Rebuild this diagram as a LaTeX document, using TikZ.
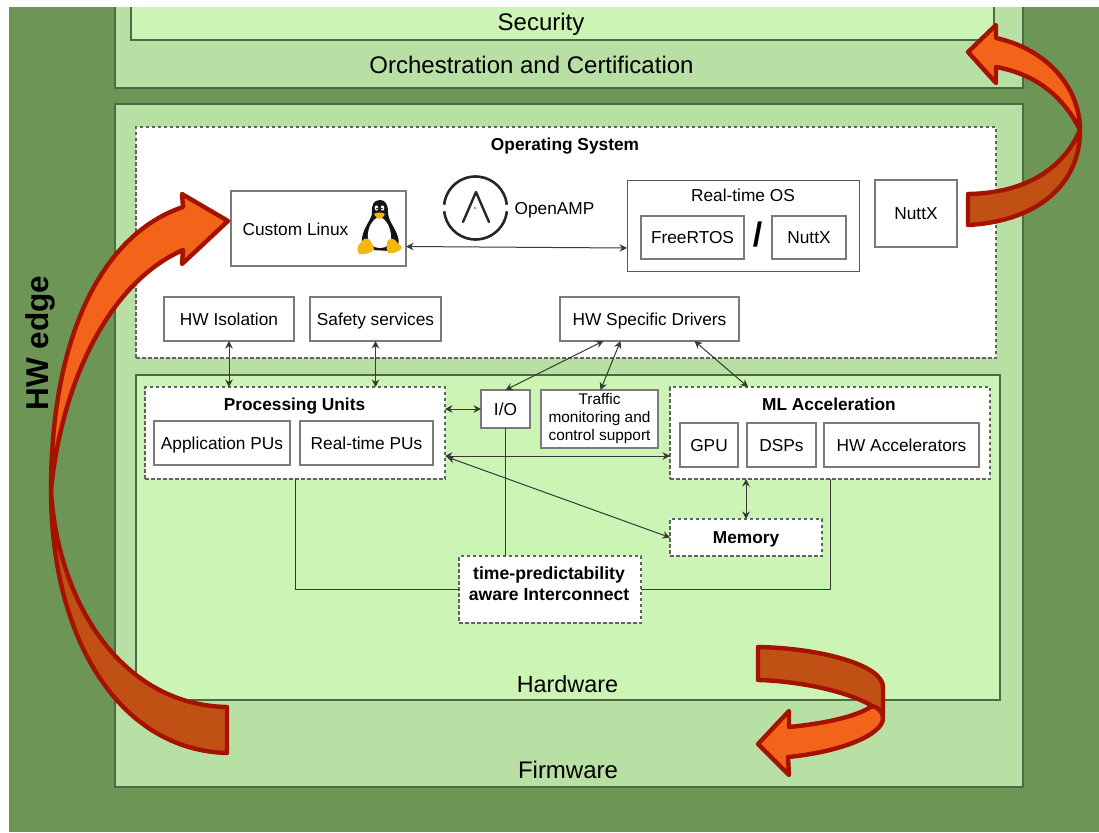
\documentclass[tikz,border=0pt]{standalone}
\usepackage{fontspec}
\setmainfont{Liberation Sans}
\usetikzlibrary{arrows.meta,calc}
\definecolor{edgegreen}{HTML}{6C9556}
\definecolor{midgreen}{HTML}{B8E0A5}
\definecolor{lightgreen}{HTML}{CCF5B5}
\definecolor{greenline}{HTML}{4D6A45}
\definecolor{ribbonline}{HTML}{A51300}
\definecolor{ribbonfront}{HTML}{F36319}
\definecolor{ribbonback}{HTML}{C15014}
\definecolor{tuxyellow}{HTML}{F3B70F}
\tikzset{
  layer/.style={draw=greenline,line width=1.4pt,fill=#1},
  plainbox/.style={draw=black!52,line width=1.4pt,fill=white,align=center},
  thinbox/.style={draw=black!65,line width=1pt,fill=white,align=center},
  dashbox/.style={draw=black!62,line width=1.2pt,dash pattern=on 3.5pt off 2.5pt,fill=white,align=center},
  big/.style={font=\fontsize{24}{28}\selectfont,text height=17pt,text depth=0pt},
  txt/.style={font=\fontsize{17.3}{20}\selectfont,text height=12.4pt,text depth=0pt},
  txtb/.style={font=\bfseries\fontsize{17.3}{20}\selectfont,text height=12.4pt,text depth=0pt},
  wire/.style={draw=black!78,line width=1pt},
  link/.style={wire,{Stealth[length=7.5pt,width=7.5pt]}-{Stealth[length=7.5pt,width=7.5pt]}},
  ribbon/.style={draw=ribbonline,line width=4.4pt,line join=round,fill=#1},
}
\newcommand{\rbox}[7]{%
  \pgfmathsetmacro{\bw}{#5-#3}\pgfmathsetmacro{\bh}{#6-#4}%
  \pgfmathsetmacro{\bx}{(#3+#5)/2}\pgfmathsetmacro{\by}{(#4+#6)/2}%
  \node[#1,minimum width=\bw pt,minimum height=\bh pt,inner sep=0pt,outer sep=0pt] (#2) at (\bx,\by) {#7};}
\begin{document}
\begin{tikzpicture}[x=1pt,y=-1pt]
\useasboundingbox (0,0) rectangle (1099,832);
\fill[edgegreen] (9,0) rectangle (1099,832);
% layers
\rbox{layer=midgreen}{orch}{115}{-10}{1023}{88}{}
\rbox{layer=lightgreen}{sec}{131}{-10}{994}{40}{}
\rbox{layer=midgreen}{main}{115}{104}{1023}{787}{}
\rbox{layer=lightgreen}{hw}{136}{375}{1000}{700}{}
\fill[white] (0,0) rectangle (1099,7);
\node[big] (lsec) at (541,22) {Security};
\node[big] (lorch) at (531.5,65.5) {Orchestration and Certification};
\node[big,font=\fontsize{23.4}{27}\selectfont] (lhw) at (567.5,684) {Hardware};
\node[big] (lfw) at (568,770) {Firmware};
\node[rotate=90,font=\bfseries\fontsize{31.5}{36}\selectfont] (ledge) at (40,343) {HW edge};
% OS
\rbox{dashbox}{os}{136}{127}{996}{358}{}
\node[txtb] (los) at (565,144) {Operating System};
\rbox{plainbox,txt}{linux}{231}{191}{406}{266}{}
\node[txt] (llinux) at (295.5,229) {Custom Linux};
\rbox{thinbox}{rtos}{627}{180}{859}{271}{}
\node[txt] (lrtos) at (743,195) {Real-time OS};
\rbox{plainbox,txt}{free}{641}{216}{744}{259}{FreeRTOS}
\rbox{plainbox,txt}{nuttxa}{772}{216}{846}{259}{NuttX}
\node[font=\bfseries\fontsize{34}{38}\selectfont] (slash) at (757.5,235) {/};
\rbox{plainbox,txt}{nuttxb}{875}{180}{957}{247}{NuttX}
\rbox{plainbox,txt}{iso}{164}{297}{294}{341}{HW Isolation}
\rbox{plainbox,txt}{safe}{310}{297}{441}{341}{Safety services}
\rbox{plainbox,txt}{drv}{560}{297}{739}{341}{HW Specific Drivers}
\node[txt] (lamp) at (554.5,208) {OpenAMP};
% OpenAMP logo
\draw[black!85,line width=2.6pt] (475.5,208) ++(6:31.5) arc[start angle=6,end angle=174,radius=31.5];
\draw[black!85,line width=2.6pt] (475.5,208) ++(186:31.5) arc[start angle=186,end angle=354,radius=31.5];
\draw[black!85,line width=2.4pt,line cap=round,line join=round] (463,222) -- (476,192) -- (489,222);
\fill[red!75!black] (475,208) circle (0.9);
% Tux
\fill[black!92] (380,200) .. controls (374,200) and (371,205) .. (372,213)
  .. controls (372,219) and (364,226) .. (362,238) .. controls (361,246) and (366,250) .. (372,250)
  -- (390,251) .. controls (398,250) and (400,245) .. (398,237)
  .. controls (395,227) and (388,221) .. (388,212) .. controls (388,204) and (385,200) .. (380,200) -- cycle;
\fill[white] (379,217) .. controls (372,219) and (367,229) .. (368,238) .. controls (369,245) and (374,248) .. (380,248)
  .. controls (386,248) and (391,245) .. (391,237) .. controls (391,228) and (386,218) .. (379,217) -- cycle;
\fill[white] (376.5,208) ellipse (1.8 and 2.6);
\fill[white] (382.5,208) ellipse (1.8 and 2.6);
\fill[black] (377,208.5) circle (0.9);
\fill[black] (382,208.5) circle (0.9);
\fill[tuxyellow] (374,214) .. controls (377,212) and (382,212) .. (385,214) .. controls (384,217) and (381,219) .. (379.5,219)
  .. controls (377,218.5) and (375,216.5) .. (374,214) -- cycle;
\fill[tuxyellow] (358,246) .. controls (360,243) and (362,241) .. (364,239) .. controls (367,238) and (370,239) .. (371,242)
  .. controls (373,246) and (375,248) .. (374,250) .. controls (371,253) and (364,255) .. (359,254) .. controls (357,252) and (357,249) .. (358,246) -- cycle;
\fill[tuxyellow] (388,240) .. controls (390,238) and (393,238) .. (395,240) .. controls (397,243) and (401,245) .. (402,248)
  .. controls (399,252) and (392,254) .. (388,253) .. controls (386,250) and (386,244) .. (388,240) -- cycle;
% Hardware
\rbox{dashbox}{pu}{145}{387}{445}{479}{}
\node[txtb] (lpu) at (294.5,404) {Processing Units};
\rbox{plainbox,txt}{app}{154}{421}{290}{465}{Application PUs}
\rbox{plainbox,txt}{rt}{300}{421}{433}{465}{Real-time PUs}
\rbox{plainbox,txt}{io}{481}{390}{530}{428}{I/O}
\rbox{plainbox,font=\fontsize{15.4}{18}\selectfont}{traf}{541}{390}{658}{448}{Traffic\\monitoring and\\control support}
\rbox{dashbox}{ml}{670}{387}{990}{479}{}
\node[txtb] (lml) at (829,404) {ML Acceleration};
\rbox{plainbox,txt}{gpu}{680}{423}{738}{467}{GPU}
\rbox{plainbox,txt}{dsp}{747}{423}{816}{467}{DSPs}
\rbox{plainbox,txt}{acc}{824}{423}{979}{467}{HW Accelerators}
\rbox{dashbox,txtb}{mem}{670}{519}{822}{556}{Memory}
\rbox{dashbox}{ic}{459}{556}{641}{623}{}
\node[font=\bfseries\fontsize{17.6}{21}\selectfont,align=center] (lic) at (549,583.5) {time-predictability\\aware Interconnect};
% connectors
\draw[link] (linux.south east |- 0,246.5) -- (rtos.south west |- 0,248);
\draw[link] (iso.south) -- (iso.south |- pu.north);
\draw[link] (safe.south) -- (safe.south |- pu.north);
\draw[link] (pu.east |- io.west) -- (io.west);
\draw[link] ($(pu.east)+(0,23)$) -- ($(ml.west)+(0,23)$);
\draw[link] ($(pu.east)+(2,24)$) -- (mem.west);
\draw[link] (io.north) -- ($(drv.south)+(-46,0)$);
\draw[link] ($(traf.north)+(1,0)$) -- ($(drv.south)+(-29,0)$);
\draw[link] ($(drv.south)+(45,0)$) -- ($(ml.north)+(-82,0)$);
\draw[link] (mem.north -| 746,0) -- (ml.south -| 746,0);
\draw[wire] (io.south) -- (io.south |- ic.north);
\draw[wire] (pu.south) -- (pu.south |- ic.west) -- (ic.west);
\draw[wire] (ml.south) -- (ml.south |- ic.east) -- (ic.east);
% ribbons
\draw[ribbon=ribbonback] (227,753) .. controls (120,750) and (51,640) .. (51,490)
  .. controls (57,600) and (120,705) .. (227,707) -- cycle;
\draw[ribbon=ribbonfront] (183,207) -- (182,194) -- (228,221) -- (182,264) -- (183,250)
  .. controls (110,282) and (62,380) .. (51,490) .. controls (51,340) and (100,235) .. (183,207) -- cycle;
\draw[ribbon=ribbonback] (968,225) .. controls (1030,222) and (1080,190) .. (1080,130)
  .. controls (1065,165) and (1030,193) .. (968,194) -- cycle;
\draw[ribbon=ribbonfront] (996,38) -- (996,25) -- (968,52) -- (996,83) -- (996,67)
  .. controls (1040,75) and (1065,100) .. (1080,130) .. controls (1080,90) and (1050,50) .. (996,38) -- cycle;
\draw[ribbon=ribbonback] (758,647) .. controls (820,648) and (883,665) .. (883,687) -- (883,715) -- (872,706)
  .. controls (850,692) and (800,681) .. (758,680) -- cycle;
\draw[ribbon=ribbonfront] (789,727) -- (789,711) -- (758,744) -- (789,775) -- (788,757)
  .. controls (840,752) and (883,735) .. (883,718) .. controls (883,712) and (878,707) .. (872,706) .. controls (860,715) and (830,723) .. (789,727) -- cycle;
\end{tikzpicture}
\end{document}
